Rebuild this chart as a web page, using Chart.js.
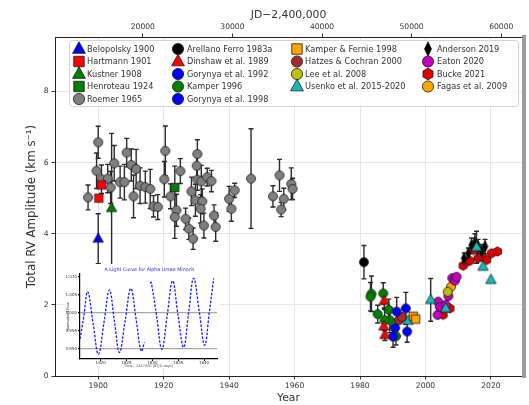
<!DOCTYPE html>
<html>
<head>
<meta charset="utf-8">
<script src="https://cdn.jsdelivr.net/npm/chart.js@4.4.1/dist/chart.umd.min.js"></script>
<style>
  html, body { margin: 0; padding: 0; background: #fff; }
  #wrap { position: relative; width: 529px; height: 405px; }
  #rv { position: absolute; left: 0; top: 0; }
  #lc { position: absolute; left: 66px; top: 264px; background: #fff; }
</style>
</head>
<body>
<div id="wrap">
  <canvas id="rv" width="529" height="405"></canvas>
  <canvas id="lc" width="154" height="104"></canvas>
</div>
<script>
// Polaris RV amplitude measurements: [year, amplitude km/s, error half-width]
const belopolsky1900 = [[1900.0, 3.86, 0.7]];
const hartmann1901 = [[1900.2, 5.00, 0], [1901.0, 5.37, 0]];
const kustner1908 = [[1904.1, 4.72, 2.1]];
const henroteau1924 = [[1923.4, 5.30, 0.6]];
const roemer1965 = [
  [1896.9, 5.02, 0.35], [1900.0, 6.57, 0.45], [1899.5, 5.77, 0.5], [1901.0, 5.53, 0.4],
  [1902.9, 5.55, 0.4], [1903.8, 5.30, 0.45], [1904.9, 5.98, 0.5], [1906.7, 5.45, 0.45],
  [1908.0, 5.45, 0.5], [1908.7, 6.28, 0.4], [1910.1, 5.93, 0.45], [1910.8, 5.05, 0.6],
  [1911.6, 5.82, 0.55], [1912.8, 5.35, 0.5], [1914.4, 5.31, 0.45], [1915.9, 5.26, 0.55],
  [1916.9, 4.77, 0.3], [1918.2, 4.75, 0.35], [1920.5, 6.33, 0.7], [1920.2, 5.53, 0.5],
  [1922.1, 5.05, 0.35], [1923.9, 4.66, 0.45], [1923.4, 4.47, 0.6], [1925.1, 5.76, 0.35],
  [1926.7, 4.42, 0.3], [1927.7, 4.14, 0.3], [1929.0, 3.86, 0.3], [1928.5, 5.19, 0.4],
  [1929.7, 4.94, 0.45], [1930.3, 6.24, 0.4], [1930.1, 5.91, 0.35], [1930.3, 5.52, 0.3],
  [1931.5, 5.47, 0.45], [1931.8, 4.91, 0.35], [1931.3, 4.70, 0.4], [1932.3, 4.23, 0.35],
  [1933.3, 5.59, 0.25], [1934.6, 5.48, 0.3], [1935.4, 4.51, 0.3], [1935.9, 4.19, 0.4],
  [1940.0, 4.98, 0.35], [1940.7, 4.70, 0.35], [1941.7, 5.22, 0.2], [1946.7, 5.55, 1.4],
  [1953.4, 5.05, 0.3], [1955.4, 5.64, 0.45], [1955.9, 4.68, 0.2], [1956.7, 4.98, 0.3],
  [1959.0, 5.40, 0.45], [1959.4, 5.26, 0.3]
];
const arellanoFerro1983a = [[1981.2, 3.20, 0.47]];
const dinshaw1989 = [[1987.4, 2.11, 0.2], [1987.6, 1.15, 0.15], [1987.3, 1.39, 0]];
const gorynya1992 = [[1990.1, 1.11, 0.3], [1990.7, 1.35, 0.25], [1991.2, 1.81, 0.4]];
const kamper1996 = [
  [1983.5, 2.31, 0.5], [1983.2, 2.23, 0.4], [1987.1, 2.32, 0.3], [1985.4, 1.74, 0.25],
  [1988.8, 1.86, 0.3], [1989.1, 1.57, 0.35], [1987.5, 1.57, 0.3], [1991.0, 1.12, 0.25]
];
const gorynya1998 = [[1994.0, 1.90, 0.45], [1994.4, 1.25, 0.3]];
const kamperFernie1998 = [[1996.3, 1.68, 0], [1997.0, 1.60, 0]];
const hatzesCochran2000 = [[1991.9, 1.57, 0], [1992.8, 1.66, 0]];
const lee2008 = [[2006.8, 2.37, 0]];
const usenko2015 = [
  [1994.7, 1.55, 0], [2001.6, 2.14, 0.6], [2006.2, 1.90, 0],
  [2015.6, 3.62, 0.45], [2017.6, 3.07, 0], [2020.0, 2.70, 0]
];
const anderson2019 = [
  [2011.8, 3.31, 0.15], [2013.1, 3.45, 0.15], [2014.1, 3.68, 0.2], [2015.1, 3.75, 0.25],
  [2016.1, 3.64, 0.2], [2017.2, 3.50, 0.2], [2018.2, 3.64, 0.2]
];
const eaton2020 = [
  [2003.7, 1.72, 0], [2003.9, 2.09, 0], [2004.4, 1.94, 0], [2006.2, 2.00, 0],
  [2007.0, 2.25, 0], [2008.2, 2.75, 0], [2009.0, 2.68, 0], [2009.5, 2.79, 0]
];
const bucke2021 = [
  [2005.4, 1.72, 0], [2007.5, 1.90, 0], [2011.5, 3.10, 0], [2012.6, 3.21, 0],
  [2013.6, 3.24, 0], [2014.6, 3.54, 0], [2016.1, 3.31, 0], [2017.2, 3.36, 0],
  [2018.7, 3.26, 0], [2020.2, 3.45, 0], [2022.0, 3.50, 0]
];
const fagas2009 = [[2007.8, 2.51, 0]];

// TESS light curve for the inset (BTJD days, normalized flux; null = data gap)
const lcDay = [
  1816.00, 1816.71, 1817.49, 1818.52, 1819.56, 1820.65, 1821.69, 1822.66, 1823.63,
  1824.73, 1825.83, 1826.86, 1827.83, 1828.48, 1829.00, 1829.57, 1829.77, 1830.80,
  1831.84, 1832.87, 1833.91, 1834.94, 1836.04, 1837.01, 1837.98, 1839.08, 1840.11,
  1841.02, 1841.86
];
const lcFlux = [
  0.9927, 0.9988, 1.0058, 0.9972, 0.9885, 0.9974, 1.0063, 0.9976, 0.9890,
  0.9978, 1.0067, 0.9981, 0.9894, 0.9918, null, 1.0081, 1.0084, 0.9993,
  0.9899, 0.9993, 1.0088, 0.9995, 0.9904, 1.0000, 1.0095, 1.0002, 0.9910,
  1.0002, 1.0095
];

const yearTicks = [1900, 1920, 1940, 1960, 1980, 2000, 2020];
const jdTicks = [20000, 30000, 40000, 50000, 60000];
const ampTicks = [0, 2, 4, 6, 8];

// legend order follows the 4 columns, top to bottom
const series = [
  { label: 'Belopolsky 1900', rows: belopolsky1900, kind: 'triangle', color: '#0000ff' },
  { label: 'Hartmann 1901', rows: hartmann1901, kind: 'rect', color: '#ff0000' },
  { label: 'Kustner 1908', rows: kustner1908, kind: 'triangle', color: '#008000' },
  { label: 'Henroteau 1924', rows: henroteau1924, kind: 'rect', color: '#008000' },
  { label: 'Roemer 1965', rows: roemer1965, kind: 'circle', color: '#808080' },
  { label: 'Arellano Ferro 1983a', rows: arellanoFerro1983a, kind: 'circle', color: '#000000' },
  { label: 'Dinshaw et al. 1989', rows: dinshaw1989, kind: 'triangle', color: '#ff0000' },
  { label: 'Gorynya et al. 1992', rows: gorynya1992, kind: 'circle', color: '#0000ff' },
  { label: 'Kamper 1996', rows: kamper1996, kind: 'circle', color: '#008000' },
  { label: 'Gorynya et al. 1998', rows: gorynya1998, kind: 'circle', color: '#0000ff' },
  { label: 'Kamper & Fernie 1998', rows: kamperFernie1998, kind: 'rect', color: '#ffa500' },
  { label: 'Hatzes & Cochran 2000', rows: hatzesCochran2000, kind: 'circle', color: '#a52a2a' },
  { label: 'Lee et al. 2008', rows: lee2008, kind: 'circle', color: '#bfbf00' },
  { label: 'Usenko et al. 2015-2020', rows: usenko2015, kind: 'triangle', color: '#10bcbc' },
  { label: 'Anderson 2019', rows: anderson2019, kind: 'diamond', color: '#000000' },
  { label: 'Eaton 2020', rows: eaton2020, kind: 'circle', color: '#bf00bf' },
  { label: 'Bucke 2021', rows: bucke2021, kind: 'hexagon', color: '#e00000' },
  { label: 'Fagas et al. 2009', rows: fagas2009, kind: 'circle', color: '#ffa500' }
];

const FONT = 'DejaVu Sans';
const jd = yr => (yr - 1900) * 365.25 + 15020;
const YEAR_MIN = 1886.8, YEAR_MAX = 2029.5;

function markerPath(c, kind, x, y, s) {
  c.beginPath();
  if (kind === 'circle') {
    c.arc(x, y, s, 0, Math.PI * 2);
  } else if (kind === 'triangle') {
    c.moveTo(x, y - 1.25 * s); c.lineTo(x + 1.1 * s, y + 0.75 * s); c.lineTo(x - 1.1 * s, y + 0.75 * s);
    c.closePath();
  } else if (kind === 'rect') {
    c.rect(x - 0.9 * s, y - 0.9 * s, 1.8 * s, 1.8 * s);
  } else if (kind === 'diamond') {
    c.moveTo(x, y - 1.25 * s); c.lineTo(x + 0.6 * s, y); c.lineTo(x, y + 1.25 * s); c.lineTo(x - 0.6 * s, y);
    c.closePath();
  } else if (kind === 'hexagon') {
    for (let i = 0; i < 6; i++) {
      const a = -Math.PI / 2 + i * Math.PI / 3;
      const px = x + s * Math.cos(a), py = y + s * Math.sin(a);
      if (i === 0) c.moveTo(px, py); else c.lineTo(px, py);
    }
    c.closePath();
  }
}

function drawMarker(c, kind, color, x, y, s) {
  markerPath(c, kind, x, y, s);
  c.fillStyle = color;
  c.fill();
  c.lineWidth = 0.8;
  c.strokeStyle = '#1a1a1a';
  c.stroke();
}

// canvas images used as point styles
function makeMarker(kind, color, s) {
  const size = Math.ceil(s * 2.6) + 2;
  const cv = document.createElement('canvas');
  cv.width = size; cv.height = size;
  drawMarker(cv.getContext('2d'), kind, color, size / 2, size / 2, s);
  return cv;
}

const datasets = series.map(sr => ({
  label: sr.label,
  data: sr.rows.map(r => ({ x: r[0], y: r[1], err: r[2] })),
  pointStyle: makeMarker(sr.kind, sr.color, sr.kind === 'circle' ? 4.5 : 4.7),
  pointRadius: 5,
  showLine: false
}));

const errorBars = {
  id: 'errorBars',
  beforeDatasetsDraw(chart) {
    const { ctx: c, chartArea: a, scales: { x, y } } = chart;
    c.save();
    c.beginPath();
    c.rect(a.left, a.top, a.right - a.left, a.bottom - a.top);
    c.clip();
    c.beginPath();
    chart.data.datasets.forEach(ds => ds.data.forEach(p => {
      if (!p.err) return;
      const px = x.getPixelForValue(p.x);
      const top = y.getPixelForValue(p.y + p.err), bot = y.getPixelForValue(p.y - p.err);
      c.moveTo(px, top); c.lineTo(px, bot);
      c.moveTo(px - 2.5, top); c.lineTo(px + 2.5, top);
      c.moveTo(px - 2.5, bot); c.lineTo(px + 2.5, bot);
    }));
    c.strokeStyle = '#2a2a2a';
    c.lineWidth = 1.4;
    c.stroke();
    c.restore();
  }
};

const legendBox = {
  id: 'legendBox',
  afterDraw(chart) {
    const c = chart.ctx;
    c.save();
    // right frame edge
    c.fillStyle = '#9c9c9c';
    c.fillRect(522, 35, 4, 343);

    c.beginPath();
    c.roundRect(69.5, 40.5, 449, 66, 3);
    c.fillStyle = 'rgba(255,255,255,0.85)';
    c.fill();
    c.strokeStyle = '#d4d4d4';
    c.lineWidth = 1;
    c.stroke();

    const markerX = [79, 178, 297, 428], textX = [87, 187, 305, 437];
    const rowY = [49, 61.5, 74, 86.5, 99];
    const perCol = [5, 5, 4, 4];
    c.font = '8.2px "' + FONT + '"';
    c.textBaseline = 'middle';
    let k = 0;
    perCol.forEach((n, col) => {
      for (let r = 0; r < n; r++, k++) {
        const sr = series[k];
        drawMarker(c, sr.kind, sr.color, markerX[col], rowY[r], sr.kind === 'circle' ? 5.6 : 5.8);
        c.fillStyle = '#333';
        c.fillText(sr.label, textX[col], rowY[r] + 0.5);
      }
    });
    c.restore();
  }
};

const tickFont = { family: FONT, size: 7.6 };

new Chart(document.getElementById('rv'), {
  type: 'scatter',
  data: { datasets },
  options: {
    responsive: false,
    animation: false,
    events: [],
    layout: { padding: { left: 0, right: 7, top: 0, bottom: 0 } },
    plugins: { legend: { display: false }, tooltip: { enabled: false } },
    scales: {
      x: {
        type: 'linear', position: 'bottom', min: YEAR_MIN, max: YEAR_MAX,
        afterBuildTicks: s => { s.ticks = yearTicks.map(v => ({ value: v })); },
        afterFit: s => { s.height = 29; },
        ticks: { font: tickFont, color: '#333', padding: 2, maxRotation: 0, callback: v => String(v) },
        grid: { color: '#e6e6e6', tickColor: '#333', tickLength: 3.5 },
        border: { color: '#222', width: 1 },
        title: { display: true, text: 'Year', color: '#333', font: { family: FONT, size: 10.8 }, padding: { top: 0, bottom: 0 } }
      },
      xTop: {
        type: 'linear', position: 'top', min: jd(YEAR_MIN), max: jd(YEAR_MAX),
        afterBuildTicks: s => { s.ticks = jdTicks.map(v => ({ value: v })); },
        afterFit: s => { s.height = 37; },
        ticks: { font: tickFont, color: '#333', padding: 2, maxRotation: 0, callback: v => String(v) },
        grid: { drawOnChartArea: false, tickColor: '#333', tickLength: 3.5 },
        border: { color: '#222', width: 1 },
        title: { display: true, text: 'JD\u22122,400,000', color: '#333', font: { family: FONT, size: 10.8 }, padding: { top: 9, bottom: 0 } }
      },
      y: {
        type: 'linear', min: 0, max: 9.53,
        afterBuildTicks: s => { s.ticks = ampTicks.map(v => ({ value: v })); },
        afterFit: s => { s.width = 55; },
        ticks: { font: tickFont, color: '#333', padding: 3, callback: v => String(v) },
        grid: { color: '#e6e6e6', tickColor: '#333', tickLength: 3.5 },
        border: { color: '#222', width: 1 },
        title: { display: true, text: 'Total RV Amplitude (km s\u207B\u00B9)', color: '#333', font: { family: FONT, size: 11.8 }, padding: { top: 25, bottom: 0 } }
      }
    }
  },
  plugins: [errorBars, legendBox]
});

// inset: light curve, title centred over its plot area
const insetTitle = {
  id: 'insetTitle',
  afterDraw(chart) {
    const { ctx: c, chartArea: a } = chart;
    c.save();
    c.font = '4.8px "' + FONT + '"';
    c.fillStyle = '#2222ff';
    c.textAlign = 'center';
    c.textBaseline = 'middle';
    c.fillText('A Light Curve for Alpha Ursae Minoris', (a.left + a.right) / 2 + 1, 6);
    c.restore();
  }
};

const tiny = { family: FONT, size: 4 };
new Chart(document.getElementById('lc'), {
  type: 'line',
  data: {
    datasets: [{
      data: lcDay.map((d, i) => ({ x: d, y: lcFlux[i] })),
      borderColor: '#1a1aff',
      borderWidth: 1.3,
      borderDash: [2.5, 1.5],
      pointRadius: 0,
      tension: 0.4,
      spanGaps: false
    }]
  },
  options: {
    responsive: false,
    animation: false,
    events: [],
    layout: { padding: { left: 0, right: 3, top: 10, bottom: 0 } },
    plugins: { legend: { display: false }, tooltip: { enabled: false } },
    scales: {
      x: {
        type: 'linear', min: 1816, max: 1842.5,
        afterFit: s => { s.height = 9; },
        ticks: { stepSize: 5, includeBounds: false, font: tiny, color: '#333', padding: 0, maxRotation: 0, callback: v => String(v) },
        grid: { display: true, drawOnChartArea: false, tickColor: '#000', tickLength: 2 },
        border: { color: '#000', width: 1.2 },
        title: { display: true, text: 'Time - 2457000 [BTJD days]', color: '#555', font: { family: FONT, size: 3.5 }, padding: 0 }
      },
      y: {
        type: 'linear', min: 0.9872, max: 1.0107,
        afterFit: s => { s.width = 14; },
        ticks: { stepSize: 0.005, includeBounds: false, font: tiny, color: '#333', padding: 1, callback: v => v.toFixed(3) },
        grid: {
          color: g => (g.tick && (Math.abs(g.tick.value - 1) < 1e-6 || Math.abs(g.tick.value - 0.99) < 1e-6)) ? '#a8a8a8' : 'rgba(0,0,0,0)',
          lineWidth: 1.2, tickColor: '#000', tickLength: 2
        },
        border: { color: '#000', width: 1.2 },
        title: { display: true, text: 'Normalized Flux', color: '#333', font: { family: FONT, size: 3.5 }, padding: 0 }
      }
    }
  },
  plugins: [insetTitle]
});
</script>
</body>
</html>
